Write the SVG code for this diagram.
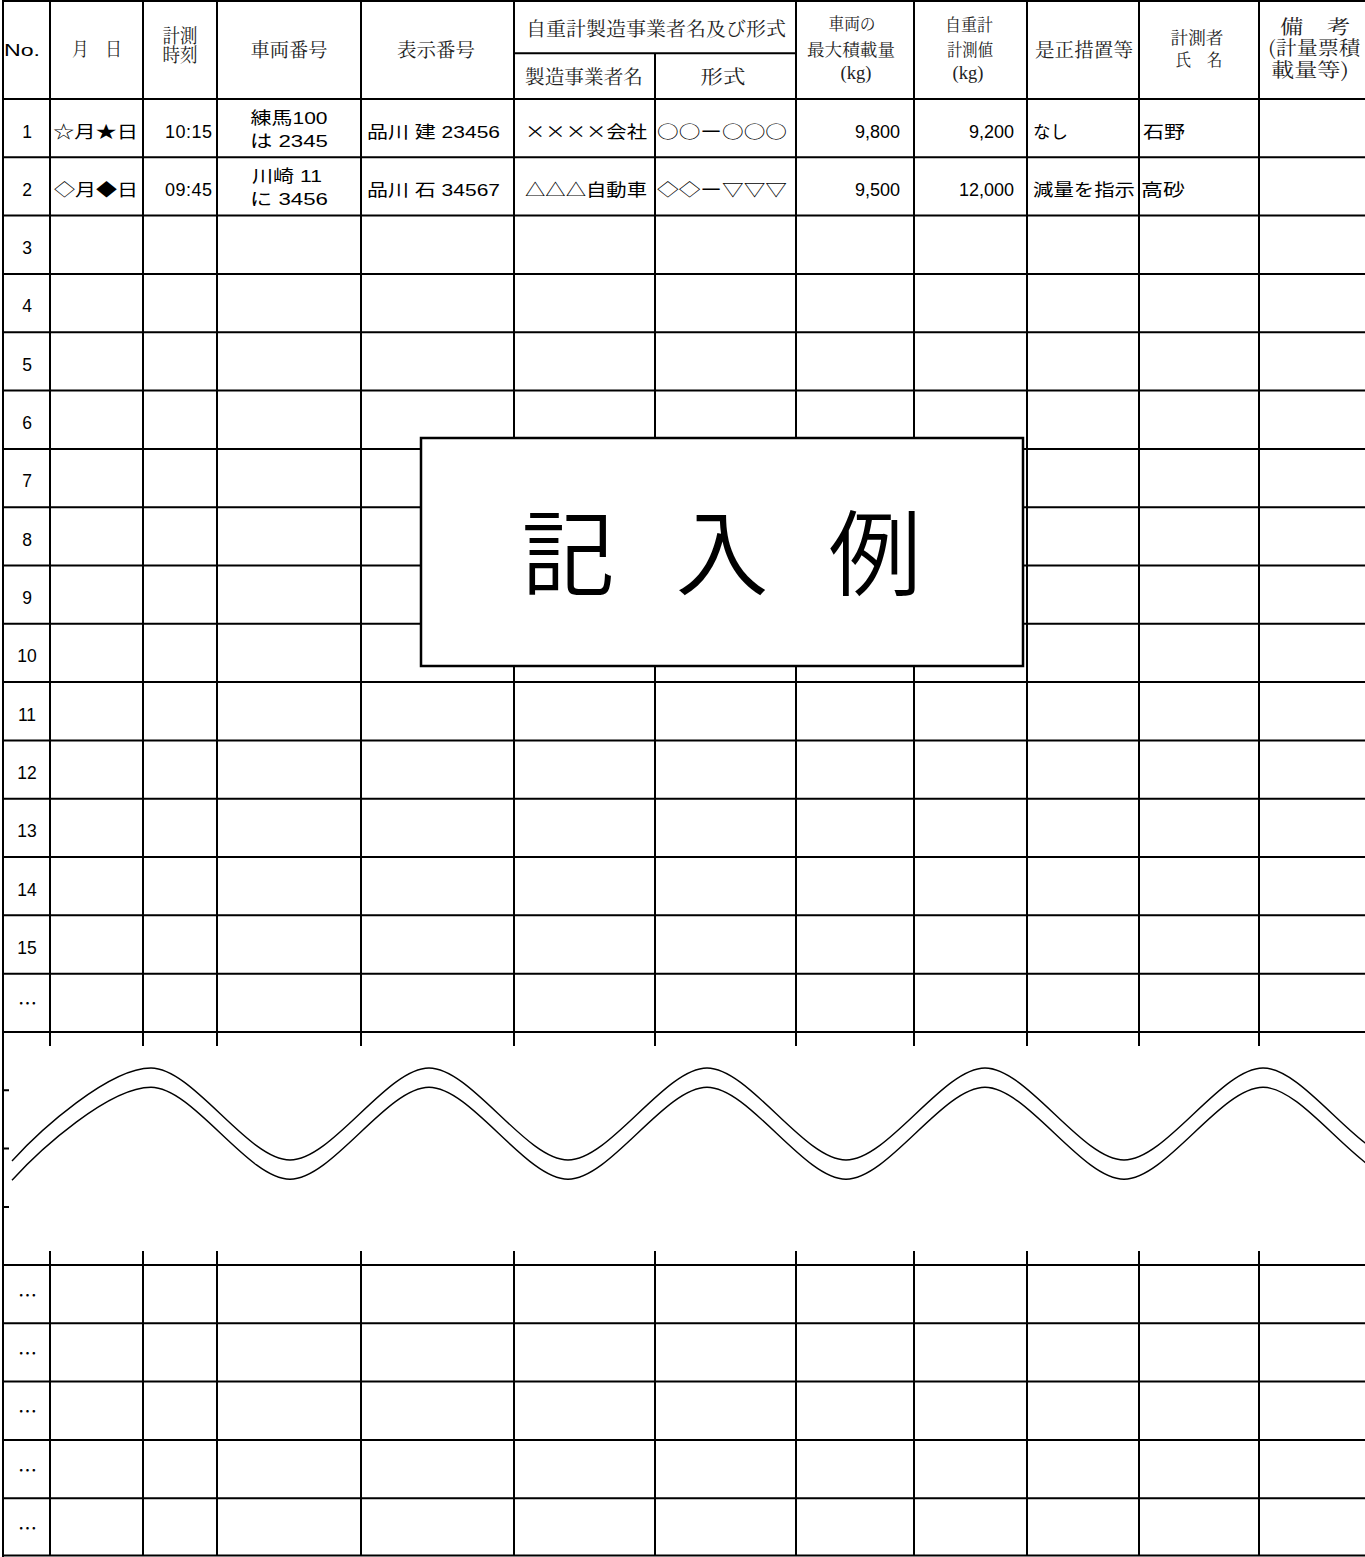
<svg xmlns="http://www.w3.org/2000/svg" width="1365" height="1557" viewBox="0 0 1365 1557">
<style>
.ln{stroke:#000;stroke-width:2;fill:none}
.wv{stroke:#000;stroke-width:1.4;fill:none}
.h{font-family:"Noto Serif CJK JP","Noto Sans CJK JP",serif;font-size:19.5px;font-weight:400;fill:#222;text-anchor:middle}
.hs{font-size:17px}
.kg{font-family:"Liberation Serif",serif;font-size:18.5px;fill:#222;text-anchor:middle}
.b{font-family:"Liberation Sans","Noto Sans CJK JP",sans-serif;font-size:17px;fill:#000}
.bj{font-family:"Noto Sans CJK JP",sans-serif;font-size:17px;fill:#000}
.num{font-family:"Liberation Sans",sans-serif;font-size:18px;fill:#000;text-anchor:end}
.rn{font-family:"Liberation Sans",sans-serif;font-size:17.5px;fill:#000;text-anchor:middle}
.el{font-family:"Noto Sans CJK JP",sans-serif;font-size:19px;fill:#000;text-anchor:middle;dominant-baseline:central}
.mid{text-anchor:middle}
</style>
<rect x="0" y="0" width="1365" height="1557" fill="#fff"/>
<g id="grid" class="ln">
<path d="M3,1H1365M514,53.3H796"/>
<path d="M3,99H1365M3,157.3H1365M3,215.6H1365M3,273.9H1365M3,332.2H1365M3,390.6H1365M3,448.9H1365M3,507.2H1365M3,565.5H1365M3,623.8H1365M3,682.1H1365M3,740.4H1365M3,798.7H1365M3,857H1365M3,915.3H1365M3,973.7H1365M3,1032H1365"/>
<path d="M3,1265H1365M3,1323.3H1365M3,1381.6H1365M3,1439.9H1365M3,1498.2H1365M3,1555.5H1365"/>
<path d="M3,0V1557"/>
<path d="M50,1V1046M143,1V1046M217,1V1046M361,1V1046M514,1V1046M655,53V1046M796,1V1046M914,1V1046M1027,1V1046M1139,1V1046M1259,1V1046"/>
<path d="M50,1251V1556M143,1251V1556M217,1251V1556M361,1251V1556M514,1251V1556M655,1251V1556M796,1251V1556M914,1251V1556M1027,1251V1556M1139,1251V1556M1259,1251V1556"/>
<path d="M3,1090.3H9M3,1148.6H9M3,1206.9H9"/>
</g>
<g id="header">
<text class="b" x="4" y="56" font-size="19" textLength="36" lengthAdjust="spacingAndGlyphs">No.</text>
<text class="h" x="97" y="56" font-size="18" textLength="50" lengthAdjust="spacingAndGlyphs">月　日</text>
<text class="h" font-size="15.5"><tspan x="180" y="42.5" textLength="35" lengthAdjust="spacingAndGlyphs">計測</tspan><tspan x="180" y="62" textLength="35" lengthAdjust="spacingAndGlyphs">時刻</tspan></text>
<text class="h" x="289" y="56.5" textLength="77" lengthAdjust="spacingAndGlyphs">車両番号</text>
<text class="h" x="436" y="56.5" textLength="78" lengthAdjust="spacingAndGlyphs">表示番号</text>
<text class="h" x="656" y="36" textLength="260" lengthAdjust="spacingAndGlyphs">自重計製造事業者名及び形式</text>
<text class="h" x="584" y="84" textLength="118" lengthAdjust="spacingAndGlyphs">製造事業者名</text>
<text class="h" x="723" y="84" textLength="45" lengthAdjust="spacingAndGlyphs">形式</text>
<text class="h hs"><tspan x="852" y="30" textLength="47" lengthAdjust="spacingAndGlyphs">車両の</tspan><tspan x="851" y="56" textLength="88" lengthAdjust="spacingAndGlyphs">最大積載量</tspan><tspan class="kg" x="856" y="79">(kg)</tspan></text>
<text class="h hs"><tspan x="969" y="31" textLength="48" lengthAdjust="spacingAndGlyphs">自重計</tspan><tspan x="970" y="56" textLength="46" lengthAdjust="spacingAndGlyphs">計測値</tspan><tspan class="kg" x="968" y="79">(kg)</tspan></text>
<text class="h" x="1084" y="56.5" textLength="98" lengthAdjust="spacingAndGlyphs">是正措置等</text>
<text class="h hs"><tspan x="1197" y="44" textLength="53" lengthAdjust="spacingAndGlyphs">計測者</tspan><tspan x="1199" y="66" textLength="47" lengthAdjust="spacingAndGlyphs">氏　名</tspan></text>
<text class="h" font-size="16.5"><tspan x="1315" y="33.5" textLength="70" lengthAdjust="spacingAndGlyphs">備　考</tspan><tspan x="1314" y="55" textLength="92" lengthAdjust="spacingAndGlyphs">(計量票積</tspan><tspan x="1310" y="76.5" textLength="78" lengthAdjust="spacingAndGlyphs">載量等)</tspan></text>
</g>
<g id="row1">
<text class="rn" x="27" y="137.5">1</text>
<text class="bj" x="53" y="138" textLength="85" lengthAdjust="spacingAndGlyphs">☆月★日</text>
<text class="num" x="212" y="137.5" textLength="47">10:15</text>
<text class="b mid"><tspan x="289" y="124" textLength="77" lengthAdjust="spacingAndGlyphs">練馬100</tspan><tspan x="289" y="147" textLength="78" lengthAdjust="spacingAndGlyphs">は 2345</tspan></text>
<text class="b" x="367" y="138" textLength="133" lengthAdjust="spacingAndGlyphs">品川 建 23456</text>
<text class="bj" x="525" y="138" textLength="122" lengthAdjust="spacingAndGlyphs">××××会社</text>
<text class="bj" x="657" y="138" textLength="130" lengthAdjust="spacingAndGlyphs">○○ー○○○</text>
<text class="num" x="900" y="137.5">9,800</text>
<text class="num" x="1014" y="137.5">9,200</text>
<text class="bj" x="1033" y="138" textLength="35" lengthAdjust="spacingAndGlyphs">なし</text>
<text class="bj" x="1143" y="138" textLength="42" lengthAdjust="spacingAndGlyphs">石野</text>
</g>
<g id="row2">
<text class="rn" x="27" y="195.8">2</text>
<text class="bj" x="54" y="196.3" textLength="84" lengthAdjust="spacingAndGlyphs">◇月◆日</text>
<text class="num" x="212" y="195.8" textLength="47">09:45</text>
<text class="b mid"><tspan x="287" y="182" textLength="70" lengthAdjust="spacingAndGlyphs">川崎 11</tspan><tspan x="289" y="204.5" textLength="78" lengthAdjust="spacingAndGlyphs">に 3456</tspan></text>
<text class="b" x="367" y="196.3" textLength="133" lengthAdjust="spacingAndGlyphs">品川 石 34567</text>
<text class="bj" x="525" y="196.3" textLength="122" lengthAdjust="spacingAndGlyphs">△△△自動車</text>
<text class="bj" x="657" y="196.3" textLength="130" lengthAdjust="spacingAndGlyphs">◇◇ー▽▽▽</text>
<text class="num" x="900" y="195.8">9,500</text>
<text class="num" x="1014" y="195.8">12,000</text>
<text class="bj" x="1033" y="196.3" textLength="102" lengthAdjust="spacingAndGlyphs">減量を指示</text>
<text class="bj" x="1141" y="196.3" textLength="44" lengthAdjust="spacingAndGlyphs">高砂</text>
</g>
<g id="rownumbers">
<text class="rn" x="27" y="254.1">3</text>
<text class="rn" x="27" y="312.4">4</text>
<text class="rn" x="27" y="370.7">5</text>
<text class="rn" x="27" y="429">6</text>
<text class="rn" x="27" y="487.4">7</text>
<text class="rn" x="27" y="545.7">8</text>
<text class="rn" x="27" y="604">9</text>
<text class="rn" x="27" y="662.3">10</text>
<text class="rn" x="27" y="720.6">11</text>
<text class="rn" x="27" y="778.9">12</text>
<text class="rn" x="27" y="837.2">13</text>
<text class="rn" x="27" y="895.5">14</text>
<text class="rn" x="27" y="953.8">15</text>
<text class="el" x="27.5" y="1002.8">…</text>
<text class="el" x="27.5" y="1294.2">…</text>
<text class="el" x="27.5" y="1352.5">…</text>
<text class="el" x="27.5" y="1410.8">…</text>
<text class="el" x="27.5" y="1469.1">…</text>
<text class="el" x="27.5" y="1527.4">…</text>
</g>
<g id="wave">
<path class="wv" d="M12,1161C40,1130 109,1068 151,1068C193,1068 248,1160 290,1160C332,1160 387,1068 429,1068C471,1068 526,1160 568,1160C610,1160 665,1068 707,1068C749,1068 804,1160 846,1160C888,1160 943,1068 985,1068C1027,1068 1082,1160 1124,1160C1166,1160 1221,1068 1263,1068C1305,1068 1360,1160 1402,1160"/>
<path class="wv" transform="translate(0,19.3)" d="M12,1161C40,1130 109,1068 151,1068C193,1068 248,1160 290,1160C332,1160 387,1068 429,1068C471,1068 526,1160 568,1160C610,1160 665,1068 707,1068C749,1068 804,1160 846,1160C888,1160 943,1068 985,1068C1027,1068 1082,1160 1124,1160C1166,1160 1221,1068 1263,1068C1305,1068 1360,1160 1402,1160"/>
</g>
<g id="sample-box">
<rect x="421" y="438" width="602" height="228" fill="#fff" stroke="#000" stroke-width="2.5"/>
<text x="568 645 722 798 875" y="588" font-family="Noto Sans CJK JP,sans-serif" font-size="93" font-weight="350" text-anchor="middle" fill="#000">記 入 例</text>
</g>
</svg>
